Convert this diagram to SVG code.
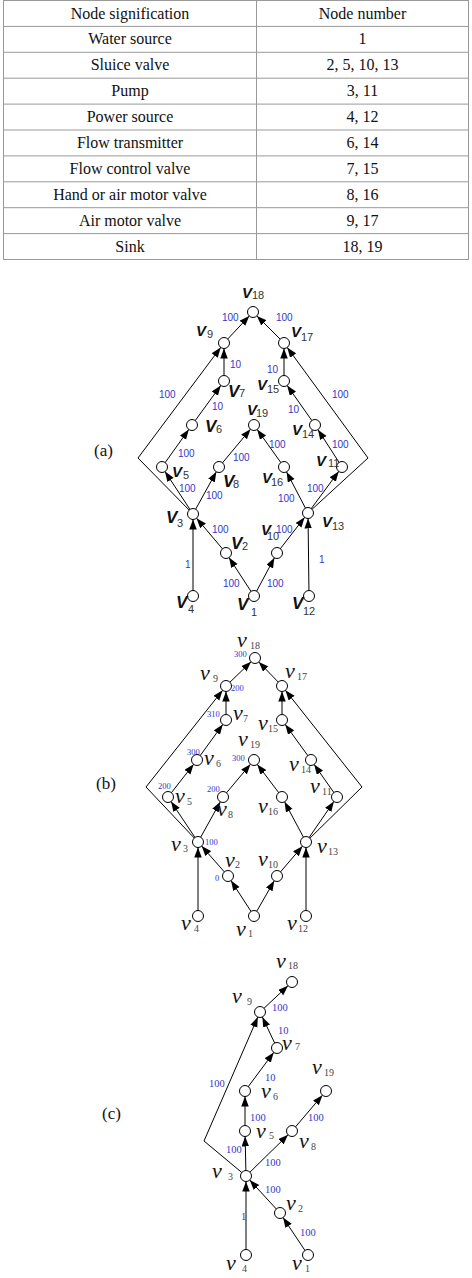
<svg xmlns="http://www.w3.org/2000/svg" width="472" height="1278" viewBox="0 0 472 1278">
<defs>
<marker id="ah" markerUnits="userSpaceOnUse" viewBox="0 0 16 8" markerWidth="16" markerHeight="8" refX="15.5" refY="3.75" orient="auto">
<path d="M0,0 L10,3.75 L0,7.5 z" fill="#000"/>
</marker>
<style>
.e{stroke:#000;stroke-width:1;fill:none;marker-end:url(#ah)}
.n{fill:#fff;stroke:#000;stroke-width:1}
.tl{stroke:#999;stroke-width:1;fill:none}
.t{font-family:"Liberation Serif","Times New Roman",serif;font-size:16px;fill:#111;text-anchor:middle}
.cap{font-family:"Liberation Serif","Times New Roman",serif;font-size:17px;fill:#111}
.va{font-family:"Liberation Sans",Arial,sans-serif;font-weight:bold;font-style:italic;font-size:15px;fill:#111}
.vbig{font-size:17px}
.sa{font-family:"Liberation Sans",Arial,sans-serif;font-weight:normal;font-style:normal;font-size:11px;fill:#333}
.la{font-family:"Liberation Sans",Arial,sans-serif;font-size:10px;fill:#3535c8}
.vb{font-family:"Liberation Serif","Times New Roman",serif;font-style:italic;font-size:22px;fill:#111}
.sb{font-family:"Liberation Serif","Times New Roman",serif;font-style:normal;font-size:10px;fill:#444}
.lb{font-family:"Liberation Serif","Times New Roman",serif;font-size:8.5px;fill:#3535c8}
.lc{font-family:"Liberation Serif","Times New Roman",serif;font-size:10.5px;fill:#3535c8}
</style>
</defs>
<rect width="472" height="1278" fill="#fff"/>

<g id="table">
<rect class="tl" x="3.5" y="0.5" width="465" height="259"/>
<line class="tl" x1="256.5" y1="0.5" x2="256.5" y2="259.5"/>
<line class="tl" x1="3.5" y1="26.4" x2="468.5" y2="26.4"/>
<line class="tl" x1="3.5" y1="52.3" x2="468.5" y2="52.3"/>
<line class="tl" x1="3.5" y1="78.2" x2="468.5" y2="78.2"/>
<line class="tl" x1="3.5" y1="104.1" x2="468.5" y2="104.1"/>
<line class="tl" x1="3.5" y1="130" x2="468.5" y2="130"/>
<line class="tl" x1="3.5" y1="155.9" x2="468.5" y2="155.9"/>
<line class="tl" x1="3.5" y1="181.8" x2="468.5" y2="181.8"/>
<line class="tl" x1="3.5" y1="207.7" x2="468.5" y2="207.7"/>
<line class="tl" x1="3.5" y1="233.6" x2="468.5" y2="233.6"/>
<text class="t" x="130" y="18.5">Node signification</text><text class="t" x="362.5" y="18.5">Node number</text>
<text class="t" x="130" y="44.4">Water source</text><text class="t" x="362.5" y="44.4">1</text>
<text class="t" x="130" y="70.3">Sluice valve</text><text class="t" x="362.5" y="70.3">2, 5, 10, 13</text>
<text class="t" x="130" y="96.2">Pump</text><text class="t" x="362.5" y="96.2">3, 11</text>
<text class="t" x="130" y="122.1">Power source</text><text class="t" x="362.5" y="122.1">4, 12</text>
<text class="t" x="130" y="148">Flow transmitter</text><text class="t" x="362.5" y="148">6, 14</text>
<text class="t" x="130" y="173.9">Flow control valve</text><text class="t" x="362.5" y="173.9">7, 15</text>
<text class="t" x="130" y="199.8">Hand or air motor valve</text><text class="t" x="362.5" y="199.8">8, 16</text>
<text class="t" x="130" y="225.7">Air motor valve</text><text class="t" x="362.5" y="225.7">9, 17</text>
<text class="t" x="130" y="251.6">Sink</text><text class="t" x="362.5" y="251.6">18, 19</text>
</g>

<text class="cap" x="94" y="456">(a)</text>
<text class="cap" x="96" y="789">(b)</text>
<text class="cap" x="102" y="1119">(c)</text>

<!-- ===== (a) ===== -->
<g id="connectors-a">
<line class="e" x1="254" y1="596" x2="226" y2="553"/>
<line class="e" x1="254" y1="596" x2="277" y2="553"/>
<line class="e" x1="226" y1="553" x2="193" y2="514"/>
<line class="e" x1="277" y1="553" x2="308" y2="513"/>
<line class="e" x1="193" y1="596" x2="193" y2="514"/>
<line class="e" x1="309" y1="596" x2="308" y2="513"/>
<line class="e" x1="193" y1="514" x2="162" y2="467"/>
<line class="e" x1="193" y1="514" x2="219" y2="467"/>
<line class="e" x1="308" y1="513" x2="284" y2="467"/>
<line class="e" x1="308" y1="513" x2="342" y2="467"/>
<line class="e" x1="162" y1="467" x2="192" y2="425"/>
<line class="e" x1="219" y1="467" x2="254" y2="425"/>
<line class="e" x1="284" y1="467" x2="254" y2="425"/>
<line class="e" x1="342" y1="467" x2="315" y2="425"/>
<line class="e" x1="192" y1="425" x2="224" y2="381"/>
<line class="e" x1="315" y1="425" x2="284" y2="381"/>
<line class="e" x1="224" y1="381" x2="224" y2="343"/>
<line class="e" x1="284" y1="381" x2="284" y2="343"/>
<line class="e" x1="224" y1="343" x2="253" y2="312"/>
<line class="e" x1="284" y1="343" x2="253" y2="312"/>
<polyline class="e" points="193,514 138,458 224,343"/>
<polyline class="e" points="308,513 368,458 284,343"/>
</g>
<g id="edge-labels-a">
<text class="la" x="222" y="321">100</text>
<text class="la" x="276" y="321">100</text>
<text class="la" x="230" y="368">10</text>
<text class="la" x="267" y="373">10</text>
<text class="la" x="159" y="398">100</text>
<text class="la" x="332" y="398">100</text>
<text class="la" x="212" y="410">10</text>
<text class="la" x="288" y="413">10</text>
<text class="la" x="269" y="448">100</text>
<text class="la" x="332" y="448">100</text>
<text class="la" x="178" y="457">100</text>
<text class="la" x="233" y="461">100</text>
<text class="la" x="179" y="492">100</text>
<text class="la" x="206" y="499">100</text>
<text class="la" x="278" y="502">100</text>
<text class="la" x="307" y="492">100</text>
<text class="la" x="212" y="533">100</text>
<text class="la" x="276" y="533">100</text>
<text class="la" x="185" y="568">1</text>
<text class="la" x="319" y="563">1</text>
<text class="la" x="223" y="587">100</text>
<text class="la" x="267" y="587">100</text>
</g>
<g id="a-v1"><circle class="n" cx="254" cy="596" r="5.5"/><text class="va vbig" x="237" y="610">V<tspan class="sa" x="251" y="616">1</tspan></text></g>
<g id="a-v2"><circle class="n" cx="226" cy="553" r="5.5"/><text class="va vbig" x="231" y="549">V<tspan class="sa" x="242" y="550">2</tspan></text></g>
<g id="a-v3"><circle class="n" cx="193" cy="514" r="5.5"/><text class="va vbig" x="166" y="523">V<tspan class="sa" x="177" y="527">3</tspan></text></g>
<g id="a-v4"><circle class="n" cx="193" cy="596" r="5.5"/><text class="va vbig" x="176" y="608">V<tspan class="sa" x="188" y="613">4</tspan></text></g>
<g id="a-v5"><circle class="n" cx="162" cy="467" r="5.5"/><text class="va" x="172" y="477">V<tspan class="sa" x="183" y="479">5</tspan></text></g>
<g id="a-v6"><circle class="n" cx="192" cy="425" r="5.5"/><text class="va vbig" x="205" y="432">V<tspan class="sa" x="216" y="433">6</tspan></text></g>
<g id="a-v7"><circle class="n" cx="224" cy="381" r="5.5"/><text class="va vbig" x="228" y="397">V<tspan class="sa" x="239" y="397">7</tspan></text></g>
<g id="a-v8"><circle class="n" cx="219" cy="467" r="5.5"/><text class="va vbig" x="223" y="487">V<tspan class="sa" x="233" y="488">8</tspan></text></g>
<g id="a-v9"><circle class="n" cx="224" cy="343" r="5.5"/><text class="va" x="196" y="336">V<tspan class="sa" x="207" y="338">9</tspan></text></g>
<g id="a-v10"><circle class="n" cx="277" cy="553" r="5.5"/><text class="va" x="261" y="535">V<tspan class="sa" x="267" y="540">10</tspan></text></g>
<g id="a-v11"><circle class="n" cx="342" cy="467" r="5.5"/><text class="va" x="316" y="466">V<tspan class="sa" x="328" y="467">11</tspan></text></g>
<g id="a-v12"><circle class="n" cx="309" cy="596" r="5.5"/><text class="va vbig" x="292" y="609">V<tspan class="sa" x="303" y="615">12</tspan></text></g>
<g id="a-v13"><circle class="n" cx="308" cy="513" r="5.5"/><text class="va" x="322" y="527">V<tspan class="sa" x="332" y="530">13</tspan></text></g>
<g id="a-v14"><circle class="n" cx="315" cy="425" r="5.5"/><text class="va" x="292" y="435">V<tspan class="sa" x="302" y="438">14</tspan></text></g>
<g id="a-v15"><circle class="n" cx="284" cy="381" r="5.5"/><text class="va" x="257" y="390">V<tspan class="sa" x="267" y="393">15</tspan></text></g>
<g id="a-v16"><circle class="n" cx="284" cy="467" r="5.5"/><text class="va" x="262" y="483">V<tspan class="sa" x="271" y="486">16</tspan></text></g>
<g id="a-v17"><circle class="n" cx="284" cy="343" r="5.5"/><text class="va" x="291" y="337">V<tspan class="sa" x="301" y="341">17</tspan></text></g>
<g id="a-v18"><circle class="n" cx="253" cy="312" r="5.5"/><text class="va" x="242" y="298">V<tspan class="sa" x="252" y="299">18</tspan></text></g>
<g id="a-v19"><circle class="n" cx="254" cy="425" r="5.5"/><text class="va" x="247" y="415">V<tspan class="sa" x="256" y="417">19</tspan></text></g>

<!-- ===== (b) ===== -->
<g id="connectors-b">
<line class="e" x1="254" y1="916" x2="228" y2="876"/>
<line class="e" x1="254" y1="916" x2="277" y2="876"/>
<line class="e" x1="228" y1="876" x2="198" y2="842"/>
<line class="e" x1="277" y1="876" x2="306" y2="842"/>
<line class="e" x1="198" y1="916" x2="198" y2="842"/>
<line class="e" x1="306" y1="916" x2="306" y2="842"/>
<line class="e" x1="198" y1="842" x2="168" y2="797"/>
<line class="e" x1="198" y1="842" x2="223" y2="797"/>
<line class="e" x1="306" y1="842" x2="282" y2="797"/>
<line class="e" x1="306" y1="842" x2="337" y2="797"/>
<line class="e" x1="168" y1="797" x2="197" y2="760"/>
<line class="e" x1="223" y1="797" x2="254" y2="760"/>
<line class="e" x1="282" y1="797" x2="254" y2="760"/>
<line class="e" x1="337" y1="797" x2="311" y2="760"/>
<line class="e" x1="197" y1="760" x2="226" y2="720"/>
<line class="e" x1="311" y1="760" x2="282" y2="720"/>
<line class="e" x1="226" y1="720" x2="226" y2="686"/>
<line class="e" x1="282" y1="720" x2="282" y2="686"/>
<line class="e" x1="226" y1="686" x2="255" y2="658"/>
<line class="e" x1="282" y1="686" x2="255" y2="658"/>
<polyline class="e" points="198,842 146,787 226,686"/>
<polyline class="e" points="306,842 362,787 282,686"/>
</g>
<g id="edge-labels-b">
<text class="lb" x="234" y="657">300</text>
<text class="lb" x="231" y="691">200</text>
<text class="lb" x="207" y="717">310</text>
<text class="lb" x="187" y="755">300</text>
<text class="lb" x="232" y="761">300</text>
<text class="lb" x="158" y="789">200</text>
<text class="lb" x="207" y="792">200</text>
<text class="lb" x="205" y="845">100</text>
<text class="lb" x="215" y="881">0</text>
</g>
<g id="b-v1"><circle class="n" cx="254" cy="916" r="5.5"/><text class="vb" x="236" y="936">v<tspan class="sb" x="248" y="937">1</tspan></text></g>
<g id="b-v2"><circle class="n" cx="228" cy="876" r="5.5"/><text class="vb" x="225" y="867">v<tspan class="sb" x="235" y="868">2</tspan></text></g>
<g id="b-v3"><circle class="n" cx="198" cy="842" r="5.5"/><text class="vb" x="171" y="851">v<tspan class="sb" x="183" y="852">3</tspan></text></g>
<g id="b-v4"><circle class="n" cx="198" cy="916" r="5.5"/><text class="vb" x="181" y="930">v<tspan class="sb" x="194" y="932">4</tspan></text></g>
<g id="b-v5"><circle class="n" cx="168" cy="797" r="5.5"/><text class="vb" x="175" y="803">v<tspan class="sb" x="187" y="805">5</tspan></text></g>
<g id="b-v6"><circle class="n" cx="197" cy="760" r="5.5"/><text class="vb" x="204" y="765">v<tspan class="sb" x="216" y="767">6</tspan></text></g>
<g id="b-v7"><circle class="n" cx="226" cy="720" r="5.5"/><text class="vb" x="233" y="720">v<tspan class="sb" x="243" y="722">7</tspan></text></g>
<g id="b-v8"><circle class="n" cx="223" cy="797" r="5.5"/><text class="vb" x="217" y="816">v<tspan class="sb" x="228" y="818">8</tspan></text></g>
<g id="b-v9"><circle class="n" cx="226" cy="686" r="5.5"/><text class="vb" x="200" y="680">v<tspan class="sb" x="213" y="682">9</tspan></text></g>
<g id="b-v10"><circle class="n" cx="277" cy="876" r="5.5"/><text class="vb" x="258" y="866">v<tspan class="sb" x="268" y="868">10</tspan></text></g>
<g id="b-v11"><circle class="n" cx="337" cy="797" r="5.5"/><text class="vb" x="310" y="793">v<tspan class="sb" x="322" y="795">11</tspan></text></g>
<g id="b-v12"><circle class="n" cx="306" cy="916" r="5.5"/><text class="vb" x="287" y="930">v<tspan class="sb" x="298" y="932">12</tspan></text></g>
<g id="b-v13"><circle class="n" cx="306" cy="842" r="5.5"/><text class="vb" x="317" y="853">v<tspan class="sb" x="328" y="855">13</tspan></text></g>
<g id="b-v14"><circle class="n" cx="311" cy="760" r="5.5"/><text class="vb" x="289" y="771">v<tspan class="sb" x="301" y="773">14</tspan></text></g>
<g id="b-v15"><circle class="n" cx="282" cy="720" r="5.5"/><text class="vb" x="258" y="730">v<tspan class="sb" x="268" y="732">15</tspan></text></g>
<g id="b-v16"><circle class="n" cx="282" cy="797" r="5.5"/><text class="vb" x="258" y="813">v<tspan class="sb" x="268" y="815">16</tspan></text></g>
<g id="b-v17"><circle class="n" cx="282" cy="686" r="5.5"/><text class="vb" x="285" y="678">v<tspan class="sb" x="297" y="680">17</tspan></text></g>
<g id="b-v18"><circle class="n" cx="255" cy="658" r="5.5"/><text class="vb" x="237" y="647">v<tspan class="sb" x="250" y="649">18</tspan></text></g>
<g id="b-v19"><circle class="n" cx="254" cy="760" r="5.5"/><text class="vb" x="238" y="746">v<tspan class="sb" x="250" y="748">19</tspan></text></g>

<!-- ===== (c) ===== -->
<g id="connectors-c">
<line class="e" x1="308" y1="1255" x2="280" y2="1213"/>
<line class="e" x1="280" y1="1213" x2="246" y2="1176"/>
<line class="e" x1="246" y1="1255" x2="246" y2="1176"/>
<line class="e" x1="246" y1="1176" x2="245" y2="1131"/>
<line class="e" x1="246" y1="1176" x2="292" y2="1131"/>
<line class="e" x1="245" y1="1131" x2="245" y2="1091"/>
<line class="e" x1="292" y1="1131" x2="326" y2="1091"/>
<line class="e" x1="245" y1="1091" x2="277" y2="1048"/>
<line class="e" x1="277" y1="1048" x2="260" y2="1012"/>
<line class="e" x1="260" y1="1012" x2="292" y2="982"/>
<polyline class="e" points="246,1176 204,1141 260,1012"/>
</g>
<g id="edge-labels-c">
<text class="lc" x="272" y="1011">100</text>
<text class="lc" x="278" y="1034">10</text>
<text class="lc" x="265" y="1081">10</text>
<text class="lc" x="209" y="1087">100</text>
<text class="lc" x="250" y="1121">100</text>
<text class="lc" x="308" y="1121">100</text>
<text class="lc" x="226" y="1153">100</text>
<text class="lc" x="265" y="1166">100</text>
<text class="lc" x="265" y="1193">100</text>
<text class="lc" x="241" y="1220">1</text>
<text class="lc" x="300" y="1236">100</text>
</g>
<g id="c-v1"><circle class="n" cx="308" cy="1255" r="5.5"/><text class="vb" x="292" y="1270">v<tspan class="sb" x="305" y="1272">1</tspan></text></g>
<g id="c-v2"><circle class="n" cx="280" cy="1213" r="5.5"/><text class="vb" x="286" y="1210">v<tspan class="sb" x="298" y="1212">2</tspan></text></g>
<g id="c-v3"><circle class="n" cx="246" cy="1176" r="5.5"/><text class="vb" x="212" y="1178">v<tspan class="sb" x="228" y="1180">3</tspan></text></g>
<g id="c-v4"><circle class="n" cx="246" cy="1255" r="5.5"/><text class="vb" x="226" y="1270">v<tspan class="sb" x="242" y="1272">4</tspan></text></g>
<g id="c-v5"><circle class="n" cx="245" cy="1131" r="5.5"/><text class="vb" x="256" y="1138">v<tspan class="sb" x="269" y="1139">5</tspan></text></g>
<g id="c-v6"><circle class="n" cx="245" cy="1091" r="5.5"/><text class="vb" x="261" y="1098">v<tspan class="sb" x="273" y="1100">6</tspan></text></g>
<g id="c-v7"><circle class="n" cx="277" cy="1048" r="5.5"/><text class="vb" x="282" y="1050">v<tspan class="sb" x="295" y="1050">7</tspan></text></g>
<g id="c-v8"><circle class="n" cx="292" cy="1131" r="5.5"/><text class="vb" x="299" y="1148">v<tspan class="sb" x="311" y="1150">8</tspan></text></g>
<g id="c-v9"><circle class="n" cx="260" cy="1012" r="5.5"/><text class="vb" x="232" y="1003">v<tspan class="sb" x="247" y="1005">9</tspan></text></g>
<g id="c-v18"><circle class="n" cx="292" cy="982" r="5.5"/><text class="vb" x="276" y="968">v<tspan class="sb" x="288" y="969">18</tspan></text></g>
<g id="c-v19"><circle class="n" cx="326" cy="1091" r="5.5"/><text class="vb" x="312" y="1074">v<tspan class="sb" x="324" y="1076">19</tspan></text></g>
</svg>
